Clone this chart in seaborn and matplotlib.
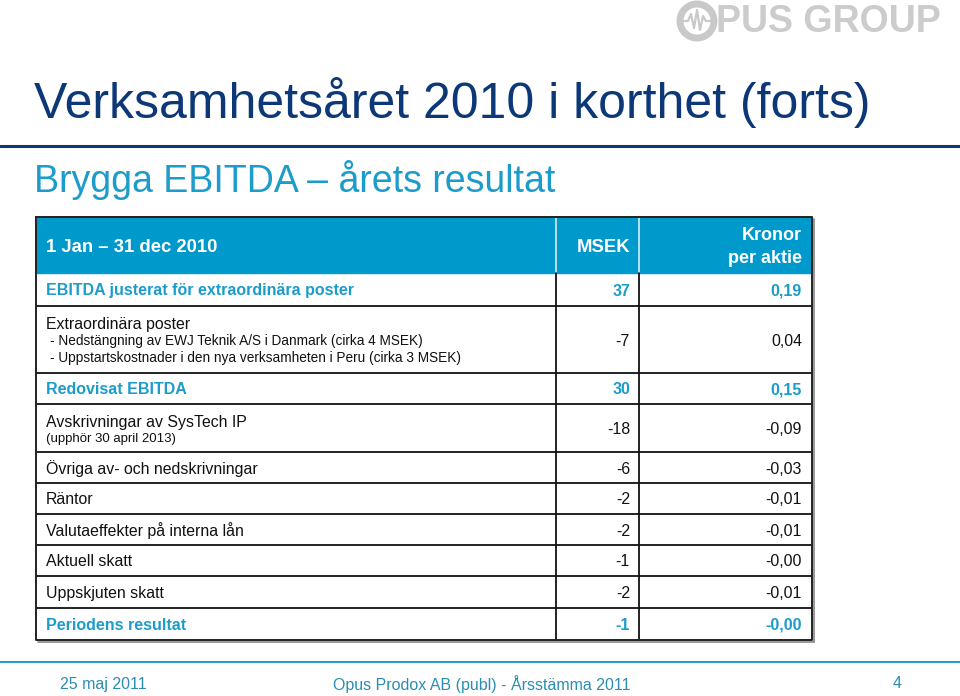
import matplotlib
matplotlib.use("Agg")
import matplotlib.pyplot as plt
import seaborn as sns
from matplotlib.patches import Rectangle, Circle

sns.set_theme(style="white")
plt.rcParams['font.family'] = ['Liberation Sans', 'DejaVu Sans']

# ---- colours
NAVY = "#0c3877"
BLUE = "#1c9ccb"
HEAD = "#0099cc"
FOOT = "#2a8db2"

# ---- data
title = "Verksamhetsåret 2010 i korthet (forts)"
subtitle = "Brygga EBITDA – årets resultat"
col_headers = ["1 Jan – 31 dec 2010", "MSEK", "Kronor\nper aktie"]

row_labels = [
    "EBITDA justerat för extraordinära poster",
    "Extraordinära poster",
    "Redovisat EBITDA",
    "Avskrivningar av SysTech IP",
    "Övriga av- och nedskrivningar",
    "Räntor",
    "Valutaeffekter på interna lån",
    "Aktuell skatt",
    "Uppskjuten skatt",
    "Periodens resultat",
]
row_notes = [
    [],
    ["- Nedstängning av EWJ Teknik A/S i Danmark (cirka 4 MSEK)",
     "- Uppstartskostnader i den nya verksamheten i Peru (cirka 3 MSEK)"],
    [],
    ["(upphör 30 april 2013)"],
    [], [], [], [], [], [],
]
msek = ["37", "-7", "30", "-18", "-6", "-2", "-2", "-1", "-2", "-1"]
kronor = ["0,19", "0,04", "0,15", "-0,09", "-0,03", "-0,01", "-0,01", "-0,00", "-0,01", "-0,00"]
highlight = [True, False, True, False, False, False, False, False, False, True]

footer_left = "25 maj 2011"
footer_mid = "Opus Prodox AB (publ) - Årsstämma 2011"
footer_right = "4"

# ---- layout (pixels)
W, H = 960, 696
x0, xc1, xc2, x1 = 36, 556, 639, 812
y_top = 217
header_h = 56
row_h = [33, 67, 31, 48, 31, 31, 31, 31, 32, 32]

fig = plt.figure(figsize=(W / 100, H / 100), dpi=100)
ax = fig.add_axes([0, 0, 1, 1])
ax.set_xlim(0, W)
ax.set_ylim(H, 0)
ax.axis("off")

# logo
ax.add_patch(Circle((697, 21), 17, fill=False, lw=5, ec="#c9c9c9"))
ax.plot([683, 688, 691, 694, 697, 700, 703, 706, 711], [21, 21, 14, 28, 10, 30, 16, 21, 21],
        color="#c9c9c9", lw=1.6)
ax.text(716, 22, "PUS GROUP", fontsize=27, fontweight="bold", color="#cccccc",
        va="center", ha="left")

# titles
ax.text(34, 103, title, fontsize=36, color=NAVY, va="center", ha="left")
ax.plot([0, W], [146, 146], color=NAVY, lw=2.2)
ax.text(34, 180, subtitle, fontsize=27, color=BLUE, va="center", ha="left")

# header
ax.add_patch(Rectangle((x0, y_top), x1 - x0, header_h, color=HEAD, zorder=1))
yh = y_top + header_h / 2 + 2
ax.text(46, yh, col_headers[0], fontsize=13.3, fontweight="bold", color="white", va="center")
ax.text(630, yh, col_headers[1], fontsize=13.3, fontweight="bold", color="white", va="center", ha="right")
ax.text(802, yh, col_headers[2], fontsize=13, fontweight="bold", color="white", va="center",
        ha="right", multialignment="right", linespacing=1.4)
for xv in (xc1, xc2):
    ax.plot([xv, xv], [y_top, y_top + header_h], color="#d6eef7", lw=1.2, zorder=2)

# rows
y = y_top + header_h
bounds = [y]
for i, lab in enumerate(row_labels):
    h = row_h[i]
    col = BLUE if highlight[i] else "#111111"
    wt = "bold" if highlight[i] else "normal"
    fs = 11.5 if highlight[i] else 11.4
    yc = y + h / 2 + 1.5
    notes = row_notes[i]
    if notes and len(notes) == 2:
        ax.text(46, y + 19, lab, fontsize=fs, color=col, va="center", fontweight=wt)
        for k, n in enumerate(notes):
            ax.text(50, y + 35 + 17 * k, n, fontsize=9.85, color=col, va="center")
    elif notes:
        ax.text(46, y + 18, lab, fontsize=fs, color=col, va="center", fontweight=wt)
        ax.text(46, y + 35, notes[0], fontsize=9.5, color=col, va="center")
    else:
        ax.text(46, yc, lab, fontsize=fs, color=col, va="center", fontweight=wt)
    ax.text(630, yc, msek[i], fontsize=fs, color=col, va="center", ha="right", fontweight=wt)
    ax.text(802, yc, kronor[i], fontsize=fs, color=col, va="center", ha="right", fontweight=wt)
    y += h
    bounds.append(y)

y_bot = bounds[-1]
for yb in bounds[1:-1]:
    ax.plot([x0, x1], [yb, yb], color="#111111", lw=1.3, zorder=3)
for xv in (xc1, xc2):
    ax.plot([xv, xv], [bounds[0], y_bot], color="#111111", lw=1.3, zorder=3)
# outer frame with a faint shadow
ax.plot([x0, x1, x1, x0, x0], [y_top, y_top, y_bot, y_bot, y_top], color="#222222", lw=1.4, zorder=4)
ax.plot([x1 + 1.5, x1 + 1.5], [y_top + 2, y_bot + 1.5], color="#888888", lw=1.2, zorder=2)
ax.plot([x0 + 2, x1 + 1.5], [y_bot + 1.5, y_bot + 1.5], color="#888888", lw=1.2, zorder=2)

# footer
ax.plot([0, W], [662, 662], color=BLUE, lw=1.4)
ax.text(60, 684, footer_left, fontsize=11.5, color=FOOT, va="center", ha="left")
ax.text(482, 684, footer_mid, fontsize=11.5, color=FOOT, va="center", ha="center")
ax.text(897, 684, footer_right, fontsize=11.5, color=FOOT, va="center", ha="center")

fig.savefig("out.png", dpi=100, facecolor="white")
